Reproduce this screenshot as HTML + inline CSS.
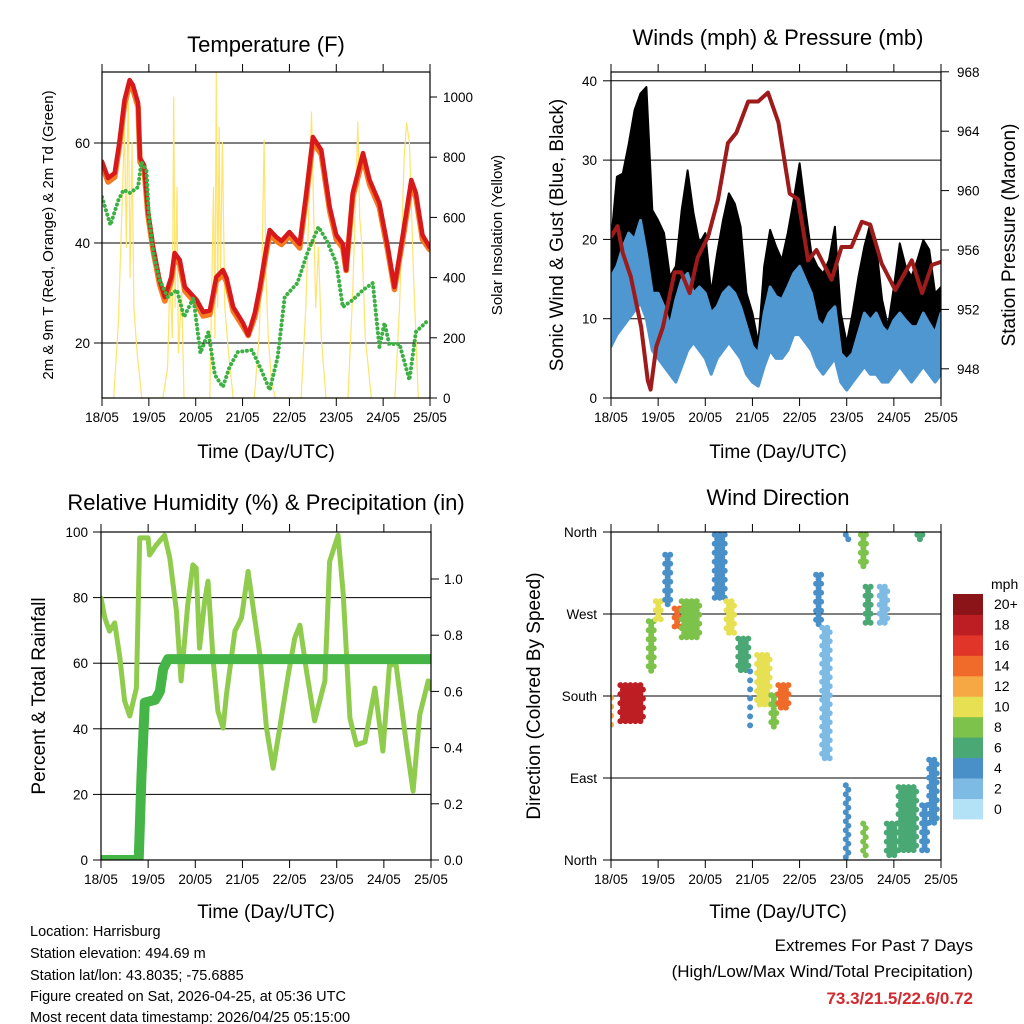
<!DOCTYPE html>
<html><head><meta charset="utf-8"><style>
html,body{margin:0;padding:0;background:#fff}
svg{display:block;font-family:"Liberation Sans",Arial,sans-serif}
</style></head><body>
<svg id="chart" width="1024" height="1024" viewBox="0 0 1024 1024" xmlns="http://www.w3.org/2000/svg">
<defs>
<clipPath id="c1"><rect x="102" y="72" width="328" height="326"/></clipPath>
<clipPath id="c2"><rect x="611" y="72" width="330" height="326"/></clipPath>
<clipPath id="c3"><rect x="101" y="532" width="330" height="328"/></clipPath>
<clipPath id="c4"><rect x="611" y="532" width="330" height="328"/></clipPath>
</defs>
<g font-size="22" text-anchor="middle" fill="#000">
<text x="266" y="52">Temperature (F)</text>
<text x="778" y="45">Winds (mph) &amp; Pressure (mb)</text>
<text x="266" y="510">Relative Humidity (%) &amp; Precipitation (in)</text>
<text x="778" y="505">Wind Direction</text>
</g>
<g font-size="19" text-anchor="middle">
<text x="266" y="458">Time (Day/UTC)</text>
<text x="778" y="458">Time (Day/UTC)</text>
<text x="266" y="918">Time (Day/UTC)</text>
<text x="778" y="918">Time (Day/UTC)</text>
<text transform="translate(563,235) rotate(-90)">Sonic Wind &amp; Gust (Blue, Black)</text>
<text transform="translate(1015,235) rotate(-90)">Station Pressure (Maroon)</text>
<text transform="translate(45,696) rotate(-90)">Percent &amp; Total Rainfall</text>
<text transform="translate(540,696) rotate(-90)">Direction (Colored By Speed)</text>
</g>
<g font-size="15" text-anchor="middle">
<text transform="translate(53,235) rotate(-90)">2m &amp; 9m T (Red, Orange) &amp; 2m Td (Green)</text>
<text transform="translate(502,235) rotate(-90)">Solar Insolation (Yellow)</text>
</g>
<g font-size="14.5">
<text x="30" y="936">Location: Harrisburg</text>
<text x="30" y="958">Station elevation: 494.69 m</text>
<text x="30" y="980">Station lat/lon: 43.8035; -75.6885</text>
<text x="30" y="1001">Figure created on Sat, 2026-04-25, at 05:36 UTC</text>
<text x="30" y="1022">Most recent data timestamp: 2026/04/25 05:15:00</text>
</g>
<g font-size="17" text-anchor="end">
<text x="973" y="951">Extremes For Past 7 Days</text>
<text x="973" y="977">(High/Low/Max Wind/Total Precipitation)</text>
<text x="973" y="1004" fill="#d12a2f" font-weight="bold">73.3/21.5/22.6/0.72</text>
</g>
<g id="layer"></g>
</svg>
<script>
// ---------- Temperature panel data ----------
const T_TIMES=[0,0.13,0.27,0.37,0.48,0.59,0.66,0.77,0.81,0.9,0.98,1.09,1.23,1.34,1.48,1.55,1.66,1.77,2.02,2.16,2.3,2.44,2.58,2.66,2.8,3.01,3.12,3.26,3.37,3.51,3.58,3.72,3.83,4.0,4.22,4.36,4.5,4.68,4.86,5.0,5.14,5.21,5.35,5.57,5.71,5.92,6.1,6.24,6.42,6.6,6.7,6.84,6.99];
const T2_VALS=[56.3,53,54,60,68.6,72.6,71.6,68,57,55.5,46.6,39.2,32.6,29.2,33.2,38,36.6,31.2,28.6,26.2,26.5,33.2,34.6,33,27.2,24,21.6,26,31.2,39.2,42.6,41.2,40.4,42.2,39.8,50,61.2,58.6,47.2,41.6,39.8,34.6,50,58,52.6,48,39.2,31.2,41.6,52.6,50,41.6,39.2];
const T9_VALS=[55.8,52.5,53.5,59.5,68,72,71,67.5,56.5,55,46,38.8,32,28.7,32.7,37.5,36,30.7,28,25.7,26,32.7,34,32.5,26.7,23.6,21.8,25.5,30.7,38.7,42,40.7,40,41.7,39.3,49.5,60.5,58,46.7,41,39.3,34.8,49.5,57.3,52,47.4,38.7,31,41,52,49.4,41,39];
const TD_TIMES=[0,0.18,0.35,0.46,0.6,0.77,0.84,0.95,1.0,1.1,1.23,1.4,1.6,1.75,1.95,2.1,2.27,2.41,2.58,2.72,2.9,3.2,3.4,3.58,3.75,3.9,4.17,4.39,4.62,4.8,5.0,5.14,5.35,5.57,5.78,5.92,6.03,6.13,6.35,6.56,6.7,6.92,7];
const TD_VALS=[49.2,43.6,48.6,50.6,50,51.2,56.2,54.4,45.4,37.8,32.6,29.2,30.6,25.2,29,18,22.2,13.6,11.2,15.2,18.2,18.6,14.6,10.6,17.2,29.2,32,38.2,43.2,40.4,36,27.2,28.6,30.6,32,19.2,24,19.8,19.8,12.6,22.2,24.2,24.5];
const SOL_TIMES=[0,0.25,0.35,0.42,0.48,0.52,0.56,0.6,0.64,0.68,0.75,0.85,1.3,1.4,1.45,1.5,1.53,1.56,1.6,1.63,1.7,1.75,2.3,2.38,2.41,2.44,2.47,2.5,2.53,2.57,2.62,2.7,2.8,3.25,3.35,3.42,3.46,3.5,3.55,3.62,3.7,4.25,4.35,4.43,4.47,4.52,4.56,4.62,4.68,4.78,5.25,5.35,5.42,5.46,5.5,5.55,5.62,5.75,6.25,6.35,6.45,6.5,6.56,6.65,6.75,7];
const SOL_VALS=[0,0,250,600,900,500,1040,400,850,300,150,0,0,100,400,200,1000,300,700,150,350,0,0,700,200,1080,300,900,400,850,300,150,0,0,200,500,857,400,200,50,0,0,300,700,950,600,300,500,200,0,0,350,700,917,600,500,200,0,0,300,800,914,850,400,0,0];
const TEMP_TICKS=[20,40,60];
const SOL_TICKS=[0,200,400,600,800,1000];
const DAY_LABELS=["18/05","19/05","20/05","21/05","22/05","23/05","24/05","25/05"];
// ---------- Wind panel data ----------
const W_STEP_DAYS=0.125;
const GUST_HIGH=[19.6,27.9,28.3,32,36.3,38.4,39.2,23.7,22.4,20.8,15.3,16.6,23.7,28.7,23.3,19.5,20.8,13.2,18.2,22.4,25.8,24.5,21.6,13.2,10.7,6.9,16.6,21.2,19.1,17.4,20.8,25,29.6,23.7,18.2,16.6,15.7,17.4,21.6,10.7,6.9,10.7,15.3,19.1,22,19.1,12.4,9,14,19.5,16.6,15.3,17.4,19.9,18.7,13.2,14];
const WIND_HIGH=[15.3,16.6,19,20.8,20,22.4,18.2,13.2,13.2,11.5,9,12.4,14.9,15.7,13.2,14,13.2,10.7,11.5,13.2,14,13.2,11.5,9,6.5,5.6,10.7,14,12.8,12.4,14,15.7,16.6,14.9,13.2,9.8,9,10.7,11.5,5.6,4.8,5.6,8.2,10.7,9.8,10.7,9,8.2,9.8,10.7,9.8,9,9,10.7,9.4,8.2,10.7];
const WIND_LOW=[6.5,8,9,10,11,12,10,6,5,4,3,2,4,6,7,6,5,3,5,6,7,6,5,3,2,1.5,4,6,5,5,6,8,8,7,6,4,3,4,5,2,1,2,3,4,3,3,2,2,3,4,3,2,3,4,3,2,3];
const P_TIMES=[0,0.14,0.25,0.42,0.64,0.78,0.84,0.96,1.1,1.35,1.49,1.67,1.84,2.06,2.27,2.48,2.66,2.91,3.12,3.33,3.55,3.79,3.97,4.18,4.36,4.68,4.89,5.1,5.32,5.5,5.74,6.03,6.38,6.6,6.81,7];
const P_VALS=[956.9,957.6,955.8,954.2,950.8,947.2,946.6,949.5,950.8,954.5,954.5,953.1,955.5,956.9,959.4,963.2,963.9,966,966,966.6,964.6,959.8,959.4,955.3,956,954,956.2,956.2,957.9,957.7,955.1,953.3,955.3,953.1,955,955.2];
const WIND_TICKS=[0,10,20,30,40];
const P_TICKS=[948,952,956,960,964,968];
// ---------- RH panel data ----------
const RH_TIMES=[0,0.08,0.18,0.29,0.4,0.5,0.61,0.75,0.82,1.0,1.03,1.17,1.35,1.46,1.6,1.7,1.84,1.95,2.02,2.09,2.2,2.27,2.38,2.48,2.59,2.66,2.84,2.98,3.12,3.22,3.37,3.51,3.65,3.79,3.97,4.11,4.22,4.36,4.53,4.75,4.85,5.03,5.14,5.28,5.42,5.6,5.81,5.98,6.12,6.26,6.48,6.62,6.76,6.94,7];
const RH_VALS=[79.9,73.8,69.8,72.3,61.6,48.5,43.9,52.4,98.2,98.2,93,96,99,92,76,54.6,77.7,90,89,64.6,79,85,60.7,45.4,40.2,50.3,69.8,73.8,88,77.7,62.5,40.2,28,40.2,56.4,67.7,71.6,57.6,42.4,54.6,91,99,80.8,43.3,35.1,36,52.4,33.2,59.5,59.5,35.1,21,44.2,54.6,52];
const PR_TIMES=[0,0.8,0.86,0.93,1.15,1.25,1.32,1.42,7];
const PR_VALS=[0,0,0.3,0.56,0.57,0.6,0.68,0.715,0.715];
const RH_TICKS=[0,20,40,60,80,100];
const PR_TICKS=[0.0,0.2,0.4,0.6,0.8,1.0];
// ---------- Wind direction clusters ----------
const DIR_T0=[0,0.2,0.8,0.95,1.15,1.35,1.5,2.2,2.45,2.7,2.95,3.1,3.4,3.55,4.35,4.48,4.98,4.98,5.3,5.35,5.4,5.7,5.85,6.1,6.5,6.6,6.75];
const DIR_T1=[0.05,0.7,0.95,1.1,1.3,1.5,1.9,2.45,2.65,2.95,3.0,3.4,3.55,3.8,4.5,4.65,5.05,5.05,5.45,5.45,5.55,5.9,6.1,6.5,6.65,6.75,6.95];
const DIR_LO=[148,152,207,262,276,255,240,284,247,207,146,167,142,167,255,109,2,350,320,2,260,260,2,10,350,10,40];
const DIR_HI=[178,192,262,284,335,276,284,357,284,243,207,225,181,192,313,255,82,357,357,40,300,300,40,80,357,60,110];
const DIR_SPD=[12,19,9,10,4,14,8,5,11,6,4,11,9,14,5,2,4,4,8,9,6,3,7,7,6,5,5];
const DIR_TICKS=[0,90,180,270,360];
const DIR_LABELS=["North","East","South","West","North"];
const CB_LABELS=["0","2","4","6","8","10","12","14","16","18","20+"];
const CB_COLORS=["#b3e2f7","#7dbbe4","#4a90c8","#4aa874","#7dc24a","#e6e052","#f5a844","#f06a2a","#e03528","#bd1e24","#8b1418"];

const NS="http://www.w3.org/2000/svg";
const root=document.getElementById('layer');
function mk(tag,parent){const e=document.createElementNS(NS,tag);(parent||root).appendChild(e);return e;}
function setA(e,o){for(const k in o)e.setAttribute(k,o[k]);return e;}
// axis functions
const x1=d=>102+d*328/7, yT=v=>143-(v-60)*5, yS=v=>398-v*0.301;
const x2=d=>611+d*330/7, yW=v=>398-v*7.93, yP=p=>250-(p-956)*14.85;
const x3=d=>101+d*330/7, yR=v=>860-v*3.28, yIn=v=>860-v*281;
const x4=d=>611+d*330/7, yD=v=>860-v*328/360;
function ptsOf(ts,vs,fx,fy){return ts.map((t,i)=>fx(t).toFixed(1)+','+fy(vs[i]).toFixed(1)).join(' ');}

function frame(name){
  const g=mk('g');
  
  
  return g;
}
function gridLine(g,xa,xb,y,name){
  const l=mk('line',g);setA(l,{x1:xa,x2:xb,y1:y,y2:y,stroke:'#000','stroke-width':1});
  
  
}
function label(g,x,y,txt,anchor,size,name){
  const t=mk('text',g);setA(t,{x:x,y:y,'text-anchor':anchor,'font-size':size});t.textContent=txt;
  
  
  return t;
}
function tick(g,xa,ya,xb,yb){const l=mk('line',g);setA(l,{x1:xa,y1:ya,x2:xb,y2:yb,stroke:'#000','stroke-width':1});
  
  }
function boxRect(g,x,y,w,h,name){const r=mk('rect',g);setA(r,{x:x,y:y,width:w,height:h,fill:'none',stroke:'#000','stroke-width':1.2});
  
  }
function timeAxis(g,fx,yBot,yTop){
  DAY_LABELS.forEach((s,i)=>{const x=fx(i);tick(g,x,yBot,x,yBot+8);tick(g,x,yTop,x,yTop-8);
    label(g,x,yBot+24,s,'middle',13.5,'x-tick-label');});
}
function polyline(g,pts,stroke,w,name,extra){
  const p=mk('polyline',g);setA(p,Object.assign({points:pts,fill:'none',stroke:stroke,'stroke-width':w,'stroke-linejoin':'round','stroke-linecap':'round'},extra||{}));
  
  
  return p;
}

// ===== Panel 1: Temperature =====
const g1=frame('temperature-panel');
TEMP_TICKS.forEach(v=>{gridLine(g1,102,430,yT(v),'temp-grid-line');tick(g1,102,yT(v),94,yT(v));label(g1,90,yT(v)+5,String(v),'end',13.5,'temp-y-tick-label');});
SOL_TICKS.forEach(v=>{tick(g1,430,yS(v),437,yS(v));label(g1,443,yS(v)+5,String(v),'start',13.5,'solar-y-tick-label');});
const p1=mk('g',g1);p1.setAttribute('clip-path','url(#c1)');
polyline(p1,ptsOf(SOL_TIMES,SOL_VALS,x1,yS),'#ffe36b',1.2,'solar-line');
polyline(p1,ptsOf(T_TIMES,T9_VALS,x1,yT),'#f47b20',5.5,'temp-9m-line',{transform:'translate(0,1.5)'});
polyline(p1,ptsOf(T_TIMES,T2_VALS,x1,yT),'#d7191c',4.5,'temp-2m-line');
polyline(p1,ptsOf(TD_TIMES,TD_VALS,x1,yT),'#3cb043',4,'dewpoint-line',{'stroke-dasharray':'0.1 4.5'});
boxRect(g1,102,72,328,326,'temp-plot-frame');
timeAxis(g1,x1,398,72);

// ===== Panel 2: Winds =====
const g2=frame('winds-panel');
[10,20,30,40].forEach(v=>gridLine(g2,611,941,yW(v),'wind-grid-line'));
WIND_TICKS.forEach(v=>{tick(g2,611,yW(v),603,yW(v));label(g2,597,yW(v)+5,String(v),'end',13.5,'wind-y-tick-label');});
P_TICKS.forEach(v=>{tick(g2,941,yP(v),949,yP(v));label(g2,957,yP(v)+5,String(v),'start',13.5,'pressure-y-tick-label');});
const p2=mk('g',g2);p2.setAttribute('clip-path','url(#c2)');
const wt=WIND_LOW.map((_,i)=>i*W_STEP_DAYS);
const gustPts=ptsOf(wt,GUST_HIGH,x2,yW)+' '+ptsOf(wt.slice().reverse(),WIND_LOW.slice().reverse(),x2,yW);
const gp=mk('polygon',p2);setA(gp,{points:gustPts,fill:'#000',stroke:'#000','stroke-width':2,'stroke-linejoin':'round'});


const windPts=ptsOf(wt,WIND_HIGH,x2,yW)+' '+ptsOf(wt.slice().reverse(),WIND_LOW.slice().reverse(),x2,yW);
const wp=mk('polygon',p2);setA(wp,{points:windPts,fill:'#4f97d0',stroke:'#4f97d0','stroke-width':3,'stroke-linejoin':'round'});


polyline(p2,ptsOf(P_TIMES,P_VALS,x2,yP),'#9e1b1b',4,'pressure-line');
boxRect(g2,611,72,330,326,'wind-plot-frame');
timeAxis(g2,x2,398,72);

// ===== Panel 3: RH =====
const g3=frame('humidity-panel');
[20,40,60,80].forEach(v=>gridLine(g3,101,431,yR(v),'rh-grid-line'));
RH_TICKS.forEach(v=>{tick(g3,101,yR(v),93,yR(v));label(g3,88,yR(v)+5,String(v),'end',13.5,'rh-y-tick-label');});
PR_TICKS.forEach(v=>{tick(g3,431,yIn(v),439,yIn(v));label(g3,444,yIn(v)+5,v.toFixed(1),'start',13.5,'precip-y-tick-label');});
const p3=mk('g',g3);p3.setAttribute('clip-path','url(#c3)');
polyline(p3,ptsOf(RH_TIMES,RH_VALS,x3,yR),'#8fcc4e',5,'rh-line');
polyline(p3,ptsOf(PR_TIMES,PR_VALS,x3,yIn),'#46b548',10,'precip-line');
boxRect(g3,101,532,330,328,'rh-plot-frame');
timeAxis(g3,x3,860,532);

// ===== Panel 4: Wind direction =====
const g4=frame('wind-direction-panel');
[90,180,270].forEach(v=>gridLine(g4,611,941,yD(v),'dir-grid-line'));
DIR_TICKS.forEach((v,i)=>{tick(g4,611,yD(v),603,yD(v));label(g4,597,yD(v)+5,DIR_LABELS[i],'end',13.5,'dir-y-tick-label');});
const p4=mk('g',g4);p4.setAttribute('clip-path','url(#c4)');
DIR_T0.forEach((t0,i)=>{
  const col=CB_COLORS[Math.min(10,Math.floor(DIR_SPD[i]/2))];
  const xa=x4(t0),xb=x4(DIR_T1[i]),ya=yD(DIR_HI[i]),yb=yD(DIR_LO[i]);
  let row=0;
  for(let y=ya;y<=yb+0.1;y+=4.5,row++){
    for(let x=xa+(row%2?2.5:0);x<=xb+0.1;x+=5){
      const c=mk('circle',p4);setA(c,{cx:x.toFixed(1),cy:y.toFixed(1),r:3,fill:col});
      
      
    }
  }
});
boxRect(g4,611,532,330,328,'dir-plot-frame');
timeAxis(g4,x4,860,532);
// colorbar
const cb=mk('g');


const cbH=225/11;
CB_COLORS.forEach((c,i)=>{const y=819-(i+1)*cbH;
  const r=mk('rect',cb);setA(r,{x:953,y:y.toFixed(1),width:30,height:(cbH+0.4).toFixed(1),fill:c});
  
  
  label(cb,994,y+cbH/2+5,CB_LABELS[i],'start',14,'colorbar-label');});
label(cb,991,589,'mph','start',14,'colorbar-unit');
</script>
</body></html>
